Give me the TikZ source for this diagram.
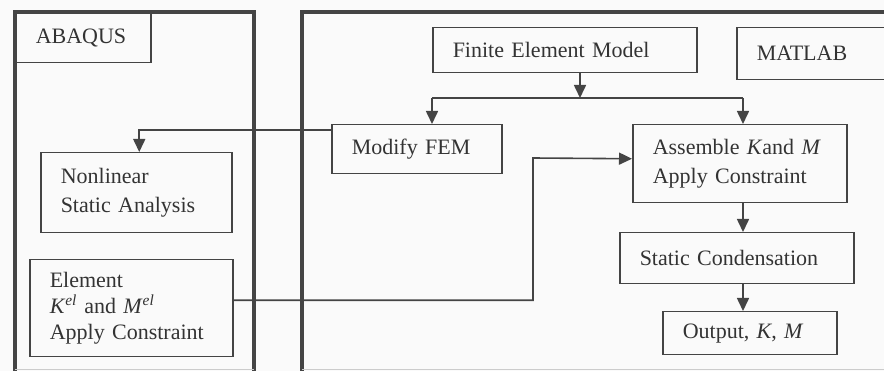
\documentclass[tikz,border=0pt]{standalone}
\usepackage{fontspec}
\setmainfont{Liberation Serif}
\usetikzlibrary{arrows.meta}
\definecolor{linegray}{HTML}{444444}
\definecolor{textgray}{HTML}{333333}
\newcommand{\mvar}[1]{\textit{#1}}

\begin{document}
\begin{tikzpicture}[x=1pt,y=-1pt,
    box/.style={draw=linegray,line width=1.5pt,anchor=north west,align=left,
      inner xsep=20pt,inner ysep=0pt,text=textgray,
      font=\fontsize{22}{29}\selectfont},
    frame/.style={draw=linegray,line width=3.2pt},
    link/.style={draw=linegray,line width=1.6pt},
    flow/.style={link,-{Triangle[width=12pt,length=13pt]}}]
  \useasboundingbox (0,0) rectangle (884,371);
  \fill[gray!4] (0,0) rectangle (884,371);

  % the two program frames
  \draw[frame] (15,371) -- (15,12) -- (254,12) -- (254,371);
  \draw[frame] (302,371) -- (302,12) -- (890,12);
  \draw[gray!40,line width=0.8pt] (15,369.5) -- (254,369.5) (302,369.5) -- (884,369.5);

  \node[box,text width=95pt,minimum height=50pt] (abaqus) at (15,12) {ABAQUS};
  \node[box,text width=224pt,minimum height=45pt] (fem) at (432,27) {Finite Element Model};
  \node[box,text width=130pt,minimum height=52pt] (matlab) at (736,27) {MATLAB};
  \node[box,text width=130pt,minimum height=49pt] (modify) at (331,124) {Modify FEM};
  \node[box,text width=174pt,minimum height=78pt] (assemble) at (632,124) {Assemble \mvar{K}and \mvar{M}\\Apply Constraint};
  \node[box,text width=151pt,minimum height=80pt] (nonlin) at (40,152) {Nonlinear\\Static Analysis};
  \node[box,text width=163pt,minimum height=97pt,font=\fontsize{22}{26}\selectfont] (elem) at (29,259)
    {Element\\\mvar{K}\textsuperscript{\mvar{el}} and \mvar{M}\textsuperscript{\mvar{el}}\\Apply Constraint};
  \node[box,text width=194pt,minimum height=51pt] (static) at (619,232) {Static Condensation};
  \node[box,text width=134pt,minimum height=43pt] (output) at (662,311) {Output, \mvar{K}, \mvar{M}};

  % connectors
  \coordinate (split) at (580,98);
  \coordinate (splitL) at (432,98);
  \coordinate (splitR) at (743,98);
  \coordinate (bend) at (533,158);
  \draw[flow] (fem.south -| split) -- (split);
  \draw[link] (splitL) -- (splitR);
  \draw[flow] (splitL) -- (splitL |- modify.north);
  \draw[flow] (splitR) -- (splitR |- assemble.north);
  \draw[flow] ([yshift=-6pt]modify.north west) -| ([xshift=3pt]nonlin.north);
  \draw[flow] ([yshift=8pt]elem.east) -| (bend) -- ([yshift=5pt]assemble.west);
  \draw[flow] (assemble.south -| splitR) -- (static.north -| splitR);
  \draw[flow] (static.south -| splitR) -- (output.north -| splitR);
\end{tikzpicture}
\end{document}
